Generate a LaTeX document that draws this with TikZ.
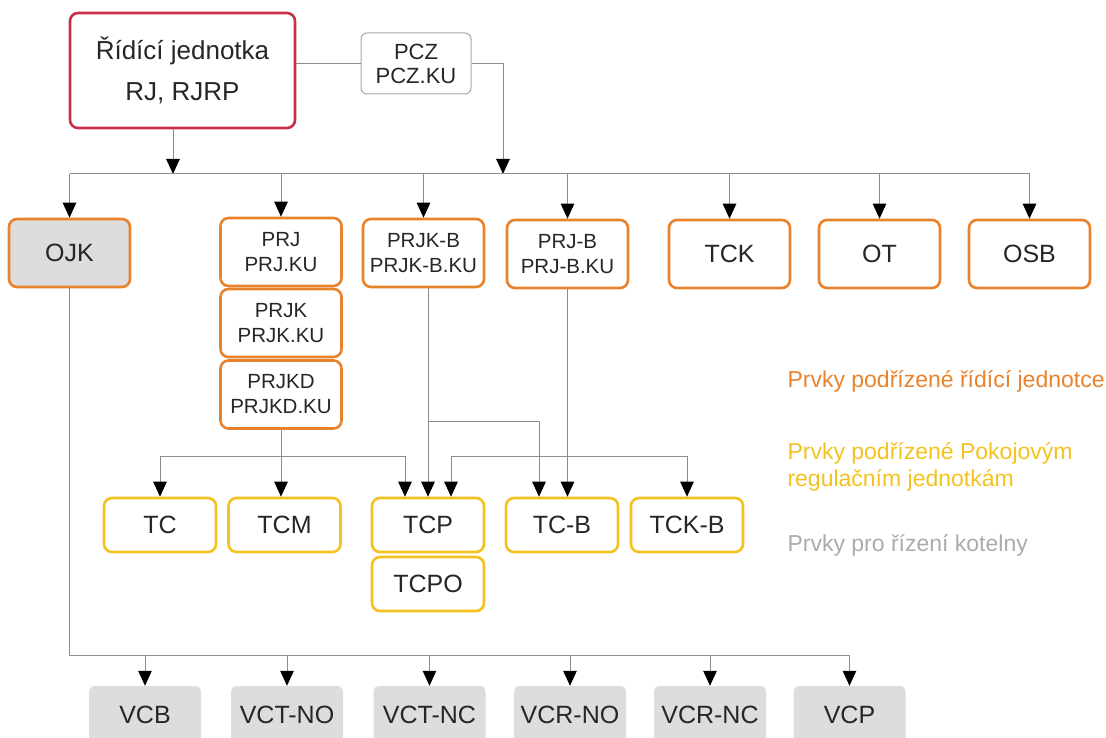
\documentclass[tikz,border=0pt]{standalone}
\usepackage{fontspec}
\setmainfont{Liberation Sans}
\usetikzlibrary{arrows.meta}
\definecolor{rjred}{HTML}{C8304A}
\definecolor{oranz}{HTML}{E8822C}
\definecolor{zluta}{HTML}{F4C21E}
\definecolor{seda}{HTML}{DDDDDD}
\definecolor{linka}{HTML}{8C8C8C}
\definecolor{legsed}{HTML}{ABABAB}
\begin{document}
\begin{tikzpicture}[x=1pt,y=-1pt,
	box/.style={rounded corners=8pt,inner sep=0pt,align=center,text=black!85},
	rjbox/.style={box,draw=rjred,line width=2.6pt,minimum width=225pt,minimum height=115pt,font=\fontsize{26}{41}\selectfont},
	pczbox/.style={box,draw=black!35,line width=1pt,rounded corners=6pt,minimum width=110pt,minimum height=61pt,font=\fontsize{22}{24}\selectfont},
	orbox/.style={box,draw=oranz,line width=2.6pt,minimum width=121pt,minimum height=68pt,font=\fontsize{25}{25}\selectfont},
	prjbox/.style={orbox,font=\fontsize{20.5}{25}\selectfont},
	ylbox/.style={box,draw=zluta,line width=2.6pt,minimum width=112pt,minimum height=54pt,font=\fontsize{25}{25}\selectfont},
	grbox/.style={box,fill=seda,rounded corners=5pt,minimum width=112pt,minimum height=58pt,font=\fontsize{25}{25}\selectfont},
	conn/.style={draw=linka,line width=1pt},
	arr/.style={-{Triangle[width=13.5pt,length=15pt,color=black,fill=black]}},
	legend/.style={anchor=west,align=left,font=\fontsize{23}{27}\selectfont}]
	\useasboundingbox (0,0) rectangle (1106,738);
	% top
	\node[rjbox] (RJ) at (182.5,70.5) {Řídící jednotka\\RJ, RJRP};
	\node[pczbox] (PCZ) at (416,63.5) {PCZ\\PCZ.KU};
	% elements of the control unit
	\node[orbox,fill=seda] (OJK) at (69.5,253) {OJK};
	\node[prjbox] (PRJ) at (281,252) {PRJ\\PRJ.KU};
	\node[prjbox] (PRJK) at (281,323) {PRJK\\PRJK.KU};
	\node[prjbox] (PRJKD) at (281,394.5) {PRJKD\\PRJKD.KU};
	\node[prjbox] (PRJKB) at (423.5,253) {PRJK-B\\PRJK-B.KU};
	\node[prjbox] (PRJB) at (567.5,254) {PRJ-B\\PRJ-B.KU};
	\node[orbox] (TCK) at (729.5,254) {TCK};
	\node[orbox] (OT) at (879.5,254) {OT};
	\node[orbox] (OSB) at (1029.5,254) {OSB};
	% room units
	\node[ylbox] (TC) at (160,525) {TC};
	\node[ylbox] (TCM) at (284.5,525) {TCM};
	\node[ylbox] (TCP) at (428,525) {TCP};
	\node[ylbox] (TCPO) at (428,584) {TCPO};
	\node[ylbox] (TCB) at (562,525) {TC-B};
	\node[ylbox] (TCKB) at (687,525) {TCK-B};
	% boiler room
	\node[grbox] (VCB) at (145,715) {VCB};
	\node[grbox] (VCTNO) at (287,715) {VCT-NO};
	\node[grbox] (VCTNC) at (429.5,715) {VCT-NC};
	\node[grbox] (VCRNO) at (570,715) {VCR-NO};
	\node[grbox] (VCRNC) at (710,715) {VCR-NC};
	\node[grbox] (VCP) at (849.5,715) {VCP};
	% legend
	\node[legend,text=oranz] (leg1) at (784,381) {Prvky podřízené řídící jednotce};
	\node[legend,text=zluta] (leg2) at (784,467) {Prvky podřízené Pokojovým\\regulačním jednotkám};
	\node[legend,text=legsed] (leg3) at (784,545) {Prvky pro řízení kotelny};
	% connectors
	\coordinate (bus) at (0,174);
	\coordinate (rjdrop) at (173,174);
	\coordinate (pczdrop) at (503,174);
	\coordinate (midbus) at (0,421);
	\coordinate (lowbus) at (0,456);
	\coordinate (vbus) at (0,655);
	\coordinate (tcpA) at ([xshift=-23pt]TCP.north);
	\coordinate (tcpC) at ([xshift=23pt]TCP.north);
	\coordinate (tcbA) at ([xshift=-23pt]TCB.north);
	\draw[conn] (PCZ.west) -- (PCZ.west -| RJ.east);
	\draw[conn,arr] (PCZ.east) -| (pczdrop);
	\draw[conn,arr] (RJ.south -| rjdrop) -- (rjdrop);
	\draw[conn] (OJK.north |- bus) -- (OSB.north |- bus);
	\foreach \n in {OJK,PRJ,PRJKB,PRJB,TCK,OT,OSB}
		\draw[conn,arr] (\n.north |- bus) -- (\n.north);
	\draw[conn,arr] (PRJKD.south) -- (PRJKD.south |- TCM.north);
	\draw[conn,arr] (TC.north |- lowbus) -- (TC.north);
	\draw[conn,arr] (TC.north |- lowbus) -| (tcpA);
	\draw[conn,arr] (PRJKB.south -| TCP.north) -- (TCP.north);
	\draw[conn,arr] (TCP.north |- midbus) -| (tcbA);
	\draw[conn,arr] (PRJB.south) -- (PRJB.south |- TCB.north);
	\draw[conn,arr] (PRJB.south |- lowbus) -| (tcpC);
	\draw[conn,arr] (PRJB.south |- lowbus) -| (TCKB.north);
	\draw[conn] (OJK.south) -- (OJK.south |- vbus) -- (VCP.north |- vbus);
	\foreach \n in {VCB,VCTNO,VCTNC,VCRNO,VCRNC,VCP}
		\draw[conn,arr] (\n.north |- vbus) -- (\n.north);
\end{tikzpicture}
\end{document}
